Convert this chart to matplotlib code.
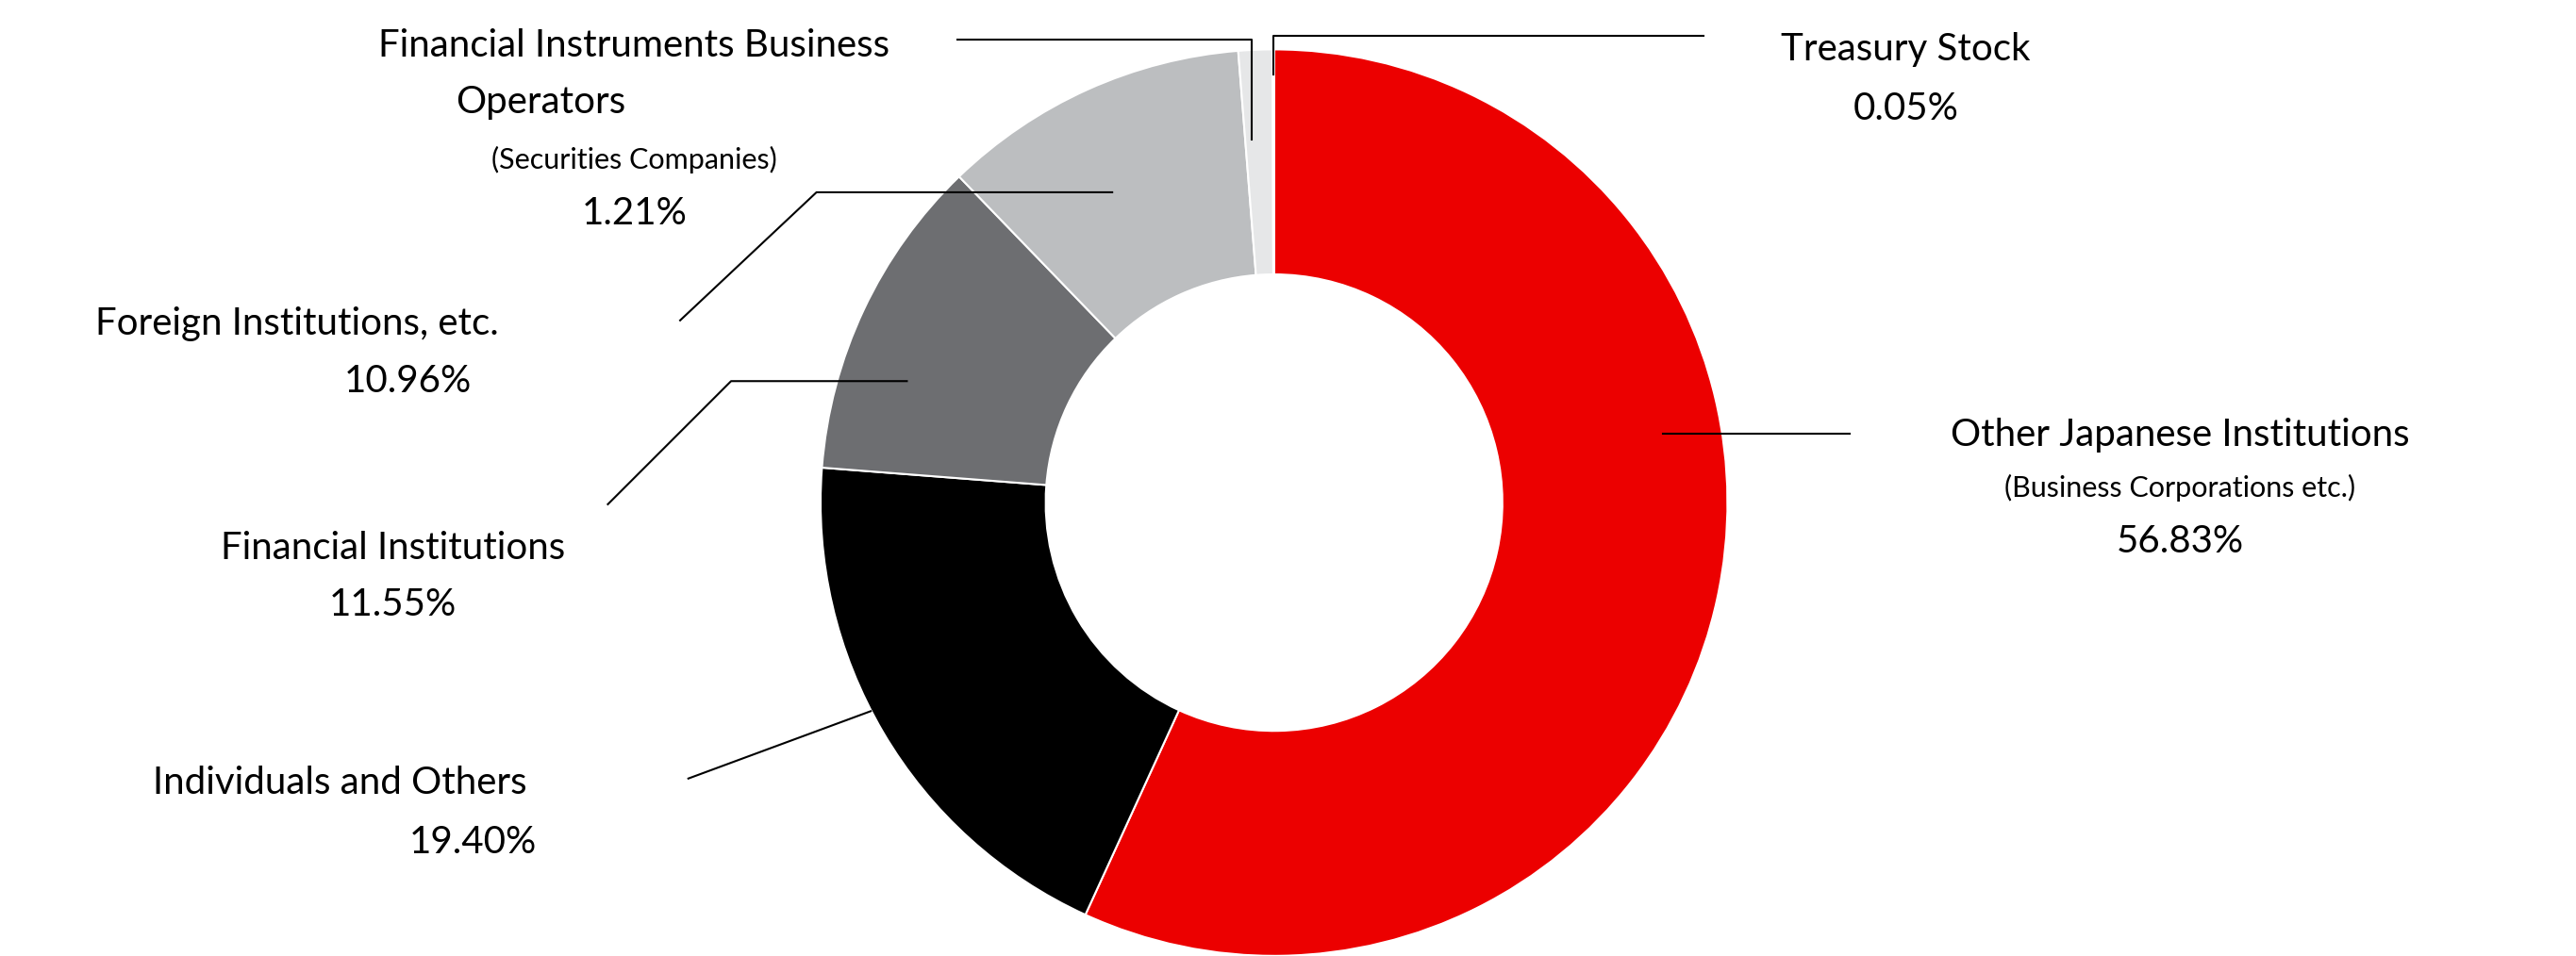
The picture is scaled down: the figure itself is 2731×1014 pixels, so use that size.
import matplotlib.pyplot as plt

labels = ["Other Japanese Institutions", "Individuals and Others", "Financial Institutions",
          "Foreign Institutions, etc.", "Financial Instruments Business Operators", "Treasury Stock"]
values = [56.83, 19.40, 11.55, 10.96, 1.21, 0.05]
colors = ["#ec0000", "#000000", "#6d6e71", "#bcbec0", "#e6e7e8", "#bcbec0"]

plt.rcParams['font.family'] = ['Lato', 'DejaVu Sans']

W, H = 1568, 582
fig = plt.figure(figsize=(27.31, 10.14), dpi=100)
ax = fig.add_axes([0, 0, 1, 1])
ax.set_xlim(0, W)
ax.set_ylim(0, H)
ax.set_aspect('equal')
ax.axis('off')

ax.pie(values, colors=colors, startangle=90, counterclock=False,
       center=(775.5, 276), radius=276, frame=True,
       wedgeprops=dict(width=137, edgecolor='white', linewidth=1.5))
ax.set_xlim(0, W)
ax.set_ylim(0, H)
ax.axis('off')

def y(v):
    return H - v

lines = [
    [(775, 45), (775, 22), (1037, 22)],
    [(762, 85), (762, 24), (583, 24)],
    [(677, 117), (497, 117), (414, 195)],
    [(552, 232), (445, 232), (370, 307)],
    [(530, 433), (419, 474)],
    [(1012, 264), (1126, 264)],
]
for pts in lines:
    ax.plot([p[0] for p in pts], [y(p[1]) for p in pts], color='black', lw=1.5)

big, small = 29, 22
texts = [
    ("Treasury Stock", 1160, 30, big), ("0.05%", 1160, 66, big),
    ("Financial Instruments Business", 386, 28, big), ("Operators", 329, 62, big),
    ("(Securities Companies)", 386, 97, small), ("1.21%", 386, 130, big),
    ("Foreign Institutions, etc.", 181, 197, big), ("10.96%", 248, 232, big),
    ("Financial Institutions", 239, 334, big), ("11.55%", 239, 368, big),
    ("Individuals and Others", 207, 477, big), ("19.40%", 288, 513, big),
    ("Other Japanese Institutions", 1327, 265, big),
    ("(Business Corporations etc.)", 1327, 297, small), ("56.83%", 1327, 330, big),
]
for t, tx, ty, fs in texts:
    ax.text(tx, y(ty), t, ha='center', va='center', fontsize=fs)

fig.savefig('out.png', dpi=100, facecolor='white')
